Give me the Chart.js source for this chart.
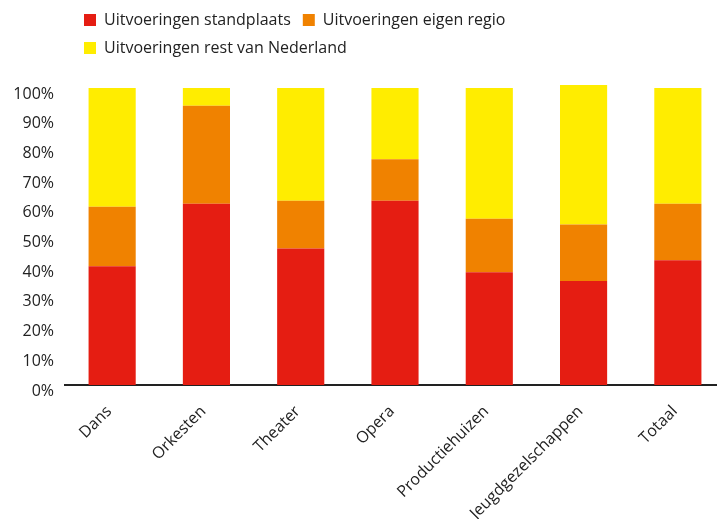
<!DOCTYPE html>
<html lang="nl">
<head>
    <meta charset="UTF-8">
    <title>Uitvoeringen per sector</title>
    <script src="https://cdn.jsdelivr.net/npm/chart.js"></script>
    <style>
        html, body {
            margin: 0;
            padding: 0;
            background: #fff;
            overflow: hidden;
        }
        #wrap {
            width: 725px;
            height: 519px;
        }
    </style>
</head>
<body>
    <div id="wrap"><canvas id="chart"></canvas></div>

    <script>
        const categories = ['Dans', 'Orkesten', 'Theater', 'Opera', 'Productiehuizen', 'Jeugdgezelschappen', 'Totaal'];
        const standplaats = [40, 61, 46, 62, 38, 35, 42];
        const eigenRegio = [20, 33, 16, 14, 18, 19, 19];
        const restNederland = [40, 6, 38, 24, 44, 47, 39];
        const yTicks = [0, 10, 20, 30, 40, 50, 60, 70, 80, 90, 100];

        const textColor = '#222';
        const font = { family: "'Open Sans', 'Noto Sans', sans-serif", size: 16 };

        // legend sits a bit further right and leaves room above the plot
        const legendTweak = {
            id: 'legendTweak',
            beforeInit(chart) {
                const fit = chart.legend.fit;
                chart.legend.fit = function () {
                    fit.call(this);
                    this.height += 22;
                };
            },
            afterLayout(chart) {
                chart.legend.left += 7;
            }
        };

        new Chart(document.getElementById('chart'), {
            type: 'bar',
            data: {
                labels: categories,
                datasets: [
                    { label: 'Uitvoeringen standplaats', data: standplaats, backgroundColor: '#E51D12' },
                    { label: 'Uitvoeringen eigen regio', data: eigenRegio, backgroundColor: '#F08200' },
                    { label: 'Uitvoeringen rest van Nederland', data: restNederland, backgroundColor: '#FFED00' }
                ]
            },
            options: {
                responsive: true,
                maintainAspectRatio: false,
                animation: false,
                layout: { padding: 0 },
                datasets: {
                    bar: {
                        barPercentage: 0.5,
                        categoryPercentage: 1.0,
                        clip: false
                    }
                },
                plugins: {
                    legend: {
                        position: 'top',
                        align: 'start',
                        fullSize: false,
                        labels: {
                            boxWidth: 12,
                            boxHeight: 12,
                            padding: 12,
                            color: textColor,
                            font: font
                        }
                    },
                    tooltip: { enabled: false }
                },
                scales: {
                    x: {
                        stacked: true,
                        grid: { display: false },
                        border: { display: true, color: '#222', width: 2 },
                        ticks: {
                            color: textColor,
                            font: font,
                            maxRotation: 45,
                            minRotation: 45,
                            autoSkip: false,
                            padding: 9,
                            labelOffset: -3
                        },
                        afterFit(scale) {
                            scale.height = 134;
                        }
                    },
                    y: {
                        stacked: true,
                        min: 0,
                        max: 100,
                        grid: { display: false },
                        border: { display: false },
                        afterBuildTicks(scale) {
                            scale.ticks = yTicks.map(v => ({ value: v }));
                        },
                        ticks: {
                            color: textColor,
                            font: font,
                            labelOffset: 6,
                            callback: v => v + '%'
                        },
                        afterFit(scale) {
                            scale.width = 65;
                        }
                    }
                }
            },
            plugins: [legendTweak]
        });
    </script>
</body>
</html>
